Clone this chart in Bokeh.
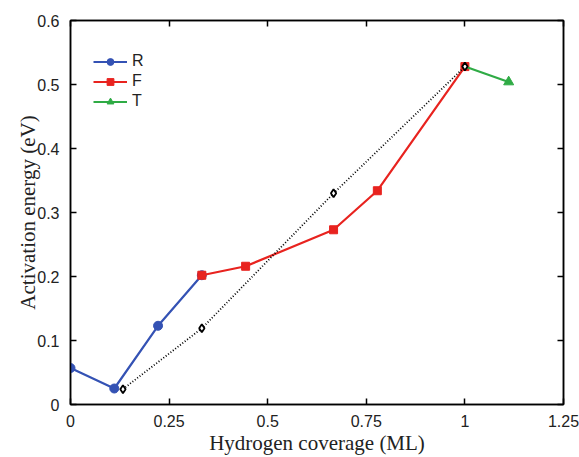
from bokeh.plotting import figure
from bokeh.models import Range1d, LinearAxis, FixedTicker, Legend, LegendItem
from bokeh.embed import file_html
from bokeh.resources import INLINE

# Data
r_x = [0.0, 0.111, 0.222, 0.333]
r_y = [0.057, 0.025, 0.123, 0.202]
f_x = [0.333, 0.444, 0.667, 0.778, 1.0]
f_y = [0.202, 0.216, 0.273, 0.334, 0.528]
t_x = [1.0, 1.111]
t_y = [0.528, 0.504]
d_x = [0.133, 0.333, 0.667, 1.0]
d_y = [0.024, 0.119, 0.330, 0.528]

x_ticks = [0, 0.25, 0.5, 0.75, 1, 1.25]
x_labels = ["0", "0.25", "0.5", "0.75", "1", "1.25"]
y_ticks = [0, 0.1, 0.2, 0.3, 0.4, 0.5, 0.6]
y_labels = ["0", "0.1", "0.2", "0.3", "0.4", "0.5", "0.6"]

BLUE = "#3452b4"
RED = "#e8231f"
GREEN = "#2fab45"
TXT = "#222222"

p = figure(width=579, height=457, output_backend="svg", toolbar_location=None,
           x_range=Range1d(0, 1.25), y_range=Range1d(0, 0.6))
p.min_border_left = 70
p.min_border_right = 16
p.min_border_top = 20
p.min_border_bottom = 53
p.grid.visible = False
p.outline_line_color = "black"
p.outline_line_width = 1.5
p.background_fill_color = "white"
p.border_fill_color = "white"

for ax in (p.xaxis[0], p.yaxis[0]):
    ax.major_tick_in = 6
    ax.major_tick_out = 0
    ax.minor_tick_line_color = None
    ax.axis_line_color = "black"
    ax.axis_line_width = 1.5
    ax.major_tick_line_width = 1.5
    ax.major_label_text_font = "Liberation Sans"
    ax.major_label_text_font_size = "16px"
    ax.major_label_text_color = TXT
    ax.major_label_text_line_height = 1.0
    ax.axis_label_text_font = "Liberation Serif"
    ax.axis_label_text_font_size = "21px"
    ax.axis_label_text_font_style = "normal"
    ax.axis_label_text_color = TXT
    ax.axis_label_text_line_height = 1.0

p.xaxis[0].ticker = FixedTicker(ticks=x_ticks)
p.xaxis[0].major_label_overrides = {t: l for t, l in zip(x_ticks, x_labels)}
p.yaxis[0].ticker = FixedTicker(ticks=y_ticks)
p.yaxis[0].major_label_overrides = {t: l for t, l in zip(y_ticks, y_labels)}
p.xaxis[0].axis_label = "Hydrogen coverage (ML)"
p.yaxis[0].axis_label = "Activation energy (eV)"
p.xaxis[0].major_label_standoff = 10
p.yaxis[0].major_label_standoff = 11
p.xaxis[0].axis_label_standoff = 1
p.yaxis[0].axis_label_standoff = -6

top = LinearAxis(ticker=FixedTicker(ticks=x_ticks),
                 major_label_overrides={t: "" for t in x_ticks},
                 major_label_standoff=0,
                 major_tick_in=6, major_tick_out=0, minor_tick_line_color=None,
                 axis_line_width=1.5, major_tick_line_width=1.5)
right = LinearAxis(ticker=FixedTicker(ticks=y_ticks),
                   major_label_overrides={t: "" for t in y_ticks},
                   major_label_standoff=0,
                   major_tick_in=6, major_tick_out=0, minor_tick_line_color=None,
                   axis_line_width=1.5, major_tick_line_width=1.5)
p.add_layout(top, "above")
p.add_layout(right, "right")

rl = p.line(r_x, r_y, line_color=BLUE, line_width=2.2)
rs = p.scatter(r_x, r_y, marker="circle", size=9, line_color=BLUE, fill_color=BLUE)
fl = p.line(f_x, f_y, line_color=RED, line_width=2.2)
fs = p.scatter(f_x, f_y, marker="square", size=8, line_color=RED, fill_color=RED)
tl = p.line(t_x, t_y, line_color=GREEN, line_width=2.2)
ts = p.scatter(t_x[1:], t_y[1:], marker="triangle", size=10, line_color=GREEN,
               fill_color=GREEN)

# dotted reference line
p.line(d_x, d_y, line_color="black", line_width=1.8, line_dash="1 2")
p.scatter(d_x, d_y, marker="diamond", size=8, line_color="black", line_width=1.8,
          fill_color="white")

legend = Legend(items=[
    LegendItem(label="R", renderers=[rl, rs]),
    LegendItem(label="F", renderers=[fl, fs]),
    LegendItem(label="T", renderers=[tl, ts]),
], location=(23, 294))
legend.border_line_color = None
legend.background_fill_alpha = 0
legend.label_text_font = "Liberation Sans"
legend.label_text_font_size = "16px"
legend.label_text_color = TXT
legend.glyph_width = 34
legend.glyph_height = 17
legend.label_height = 17
legend.spacing = 2
legend.label_standoff = 5
legend.margin = 0
legend.padding = 0
p.add_layout(legend, "center")

open("out.html", "w").write(file_html(p, INLINE))
